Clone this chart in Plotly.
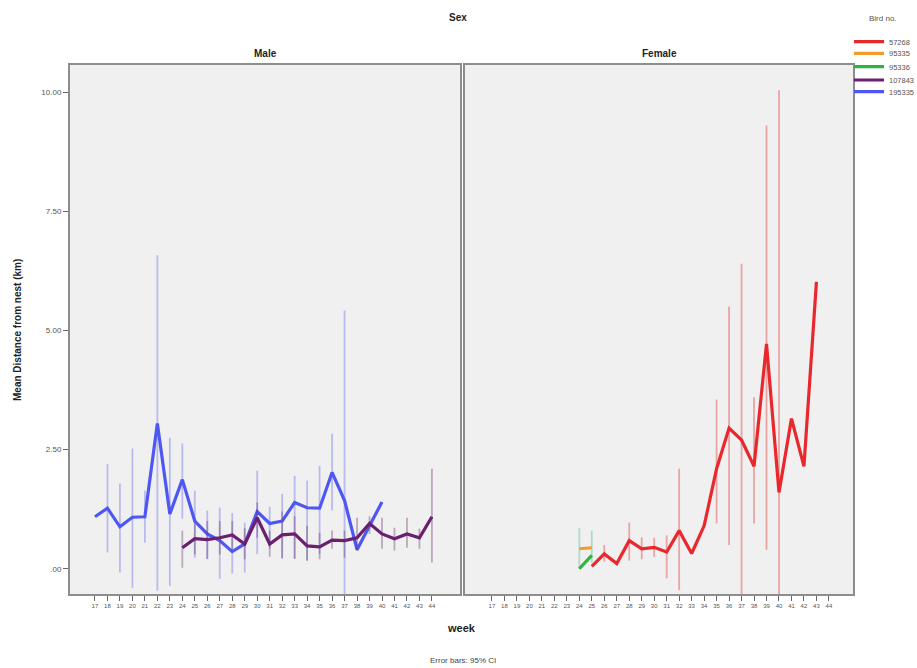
import plotly.graph_objects as go

# ---------------- data ----------------
week_ticks = list(range(17, 45))
week_labels = [str(w) for w in week_ticks]

# Male birds
b195335_weeks = list(range(17, 41))
b195335_mean = [1.09, 1.27, 0.88, 1.08, 1.09, 3.05, 1.15, 1.87, 1.00, 0.73, 0.59, 0.36,
                0.52, 1.20, 0.95, 1.00, 1.39, 1.28, 1.27, 2.02, 1.43, 0.40, 0.90, 1.40]
b195335_lo = [None, 0.34, -0.08, -0.40, 0.55, -0.46, -0.36, 1.05, 0.23, 0.21, -0.21, -0.10,
              -0.08, 0.31, 0.42, 0.23, 0.21, 0.17, 0.31, 1.22, -1.50, None, None, None]
b195335_hi = [None, 2.20, 1.79, 2.52, 1.64, 6.58, 2.75, 2.63, 1.64, 1.22, 1.28, 1.17,
              0.97, 2.06, 1.30, 1.57, 1.95, 1.85, 2.16, 2.83, 5.42, None, None, None]

b107843_weeks = list(range(24, 45))
b107843_mean = [0.44, 0.63, 0.61, 0.65, 0.71, 0.52, 1.07, 0.52, 0.71, 0.73, 0.48, 0.46,
                0.60, 0.59, 0.65, 0.95, 0.73, 0.63, 0.73, 0.65, 1.09]
b107843_lo = [0.02, 0.30, 0.20, 0.30, 0.40, 0.20, 0.65, 0.25, 0.21, 0.21, 0.17, 0.20,
              0.42, 0.23, 0.38, 0.73, 0.42, 0.38, 0.44, 0.42, 0.13]
b107843_hi = [0.80, 0.95, 1.00, 1.00, 1.00, 0.85, 1.39, 0.80, 1.20, 1.10, 0.90, 0.75,
              0.80, 0.80, 1.07, 1.10, 1.07, 0.86, 1.07, 0.84, 2.10]

# Female birds
b57268_weeks = list(range(25, 44))
b57268_mean = [0.05, 0.31, 0.11, 0.59, 0.42, 0.45, 0.35, 0.80, 0.32, 0.90, 2.10, 2.95,
               2.70, 2.15, 4.72, 1.60, 3.15, 2.15, 6.02]
b57268_lo = [None, 0.15, None, 0.17, 0.20, 0.25, -0.20, -0.45, None, None, 0.95, 0.50,
             -1.50, 0.95, 0.40, -1.50, None, None, None]
b57268_hi = [None, 0.50, None, 0.97, 0.66, 0.65, 0.70, 2.10, None, None, 3.55, 5.50,
             6.40, 3.60, 9.30, 10.04, None, None, None]

b95335_weeks = [24, 25]
b95335_mean = [0.42, 0.44]
b95335_lo = [0.00, 0.13]
b95335_hi = [0.86, 0.80]

b95336_weeks = [24, 25]
b95336_mean = [0.00, 0.28]
b95336_lo = [None, None]
b95336_hi = [None, None]

FONT = "Liberation Sans, Arial, sans-serif"


def err(mean, lo, hi):
    plus = [(h - m) if h is not None else 0 for m, h in zip(mean, hi)]
    minus = [(m - l) if l is not None else 0 for m, l in zip(mean, lo)]
    return plus, minus


fig = go.Figure()

series = [
    # name, weeks, mean, lo, hi, line colour, bar colour, x-axis, legend
    ("57268", b57268_weeks, b57268_mean, b57268_lo, b57268_hi,
     "#e8282c", "rgba(225,70,70,0.45)", "x2", "legend"),
    ("95335", b95335_weeks, b95335_mean, b95335_lo, b95335_hi,
     "#f39c2e", "rgba(120,200,170,0.55)", "x2", "legend2"),
    ("95336", b95336_weeks, b95336_mean, b95336_lo, b95336_hi,
     "#2fb33e", "rgba(60,180,80,0.45)", "x2", "legend3"),
    ("107843", b107843_weeks, b107843_mean, b107843_lo, b107843_hi,
     "#6a206e", "rgba(110,60,110,0.40)", "x", "legend4"),
    ("195335", b195335_weeks, b195335_mean, b195335_lo, b195335_hi,
     "#4f57f2", "rgba(110,115,235,0.42)", "x", "legend5"),
]

draw_order = [4, 3, 0, 1, 2]
for i in draw_order:
    name, wk, mn, lo, hi, col, ecol, xa, lg = series[i]
    plus, minus = err(mn, lo, hi)
    fig.add_trace(go.Scatter(
        x=wk, y=mn, mode="lines", name=name,
        line=dict(color=col, width=3.2),
        error_y=dict(type="data", array=plus, arrayminus=minus, symmetric=False,
                     color=ecol, thickness=1.8, width=0),
        xaxis=xa, yaxis="y" if xa == "x" else "y2",
        legend=lg, showlegend=True, hoverinfo="skip",
    ))

L, R, T, B = 70, 64, 65, 74
W, H = 917, 668
pw, ph = W - L - R, H - T - B


def px_x(p):
    return (p - L) / pw


def px_y(p):
    return (H - B - p) / ph


axis_common = dict(
    showgrid=False, zeroline=False, showline=True, mirror=True,
    linecolor="#8d8d8d", linewidth=2,
)

fig.update_layout(
    width=W, height=H,
    margin=dict(l=L, r=R, t=T, b=B, autoexpand=False),
    paper_bgcolor="white", plot_bgcolor="#f0f0f0",
    font=dict(family=FONT, color="#333333"),
    xaxis=dict(domain=[0, px_x(460)], range=[15, 46.25],
               tickmode="array", tickvals=week_ticks, ticktext=week_labels,
               ticks="outside", ticklen=5, tickcolor="#666666", tickwidth=1,
               tickfont=dict(size=6, color="#555555"), **axis_common),
    xaxis2=dict(domain=[px_x(465), 1], range=[14.84, 45.93],
                tickmode="array", tickvals=week_ticks, ticktext=week_labels,
                ticks="outside", ticklen=5, tickcolor="#666666", tickwidth=1,
                tickfont=dict(size=6, color="#555555"), **axis_common),
    yaxis=dict(domain=[0, 1], range=[-0.53, 10.57], anchor="x",
               tickmode="array", tickvals=[0, 2.5, 5, 7.5, 10],
               ticktext=[".00", "2.50", "5.00", "7.50", "10.00"],
               ticks="outside", ticklen=5, tickcolor="#666666",
               tickfont=dict(size=8, color="#555555"), **axis_common),
    yaxis2=dict(domain=[0, 1], range=[-0.53, 10.57], anchor="x2",
                showticklabels=False, ticks="", **axis_common),
)

legend_y = [41.7, 53.3, 66.7, 80.0, 91.7]
for j, key in enumerate(["legend", "legend2", "legend3", "legend4", "legend5"]):
    fig.update_layout({key: dict(
        x=px_x(849), y=px_y(legend_y[j]), xanchor="left", yanchor="middle",
        bgcolor="rgba(0,0,0,0)", borderwidth=0,
        font=dict(size=7.5, color="#555555", family=FONT),
        itemwidth=30,
    )})

ann = [
    dict(text="<b>Sex</b>", x=px_x(458), y=px_y(17), size=10, color="#222222"),
    dict(text="<b>Male</b>", x=px_x(265), y=px_y(53), size=10, color="#222222"),
    dict(text="<b>Female</b>", x=px_x(659), y=px_y(53), size=10, color="#222222"),
    dict(text="<b>week</b>", x=px_x(461), y=px_y(628), size=11, color="#222222"),
    dict(text="Error bars: 95% CI", x=px_x(463), y=px_y(660), size=8, color="#444444"),
    dict(text="Bird no.", x=px_x(883), y=px_y(18), size=8, color="#555555"),
]
for a in ann:
    fig.add_annotation(text=a["text"], x=a["x"], y=a["y"], xref="paper", yref="paper",
                       showarrow=False, xanchor="center", yanchor="middle",
                       font=dict(size=a["size"], color=a["color"], family=FONT))

fig.add_annotation(text="<b>Mean Distance from nest (km)</b>", x=px_x(17), y=px_y(330),
                   xref="paper", yref="paper", showarrow=False, textangle=-90,
                   xanchor="center", yanchor="middle",
                   font=dict(size=10, color="#222222", family=FONT))

fig.write_html("out.html")
